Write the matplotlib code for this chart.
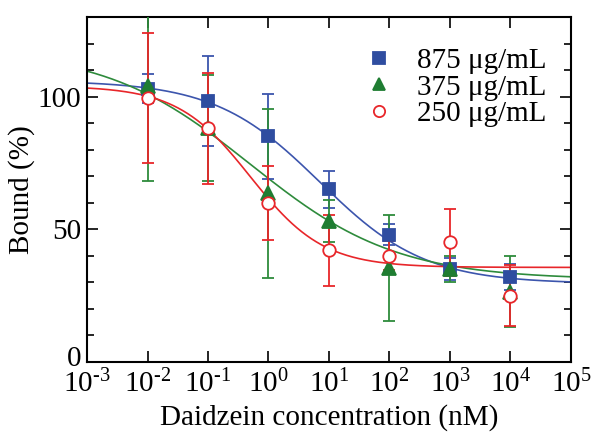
import numpy as np
import matplotlib.pyplot as plt
import matplotlib.transforms as mtransforms
from matplotlib.ticker import FixedLocator, MultipleLocator, FuncFormatter

plt.rcParams['font.family'] = ['Liberation Serif', 'DejaVu Serif']
plt.rcParams['mathtext.fontset'] = 'custom'
plt.rcParams['mathtext.rm'] = 'Liberation Serif'
plt.rcParams['mathtext.it'] = 'Liberation Serif'

# concentrations (nM)
conc = [1e-2, 1e-1, 1e0, 1e1, 1e2, 1e3, 1e4]

# 875 ug/mL
b875 = [103, 98.5, 85, 65, 48, 35, 32]
e875 = [5.5, 17, 16, 7, 4, 4, 5]
# 375 ug/mL
b375 = [104, 88, 63.5, 53, 35.5, 35, 26.5]
e375 = [36, 20, 32, 8, 20, 5, 13.5]
# 250 ug/mL
b250 = [99.5, 88, 60, 42, 40, 45, 25]
e250 = [24.5, 21, 14, 13.5, 5.5, 12.5, 11.5]

labels = ['875 \u03bcg/mL', '375 \u03bcg/mL', '250 \u03bcg/mL']

# four-parameter logistic fits: top, bottom, log IC50, hill slope
fit875 = (106, 29.5, 0.85, 0.5)
fit375 = (118, 31, -0.3, 0.36)
fit250 = (104, 35.6, -0.3, 0.72)


def logistic(x, p):
    top, bot, lic, h = p
    return bot + (top - bot) / (1 + 10 ** ((np.log10(x) - lic) * h))


def exp_label(v, pos):
    k = round(np.log10(v))
    if k < 0:
        return r'$\mathregular{10^{\text{-}%d}}$' % (-k)
    return r'$\mathregular{10^{%d}}$' % k


fig = plt.figure(figsize=(5.96, 4.37), dpi=100)
ax = fig.add_axes([0.146, 0.172, 0.812, 0.789])

xs = np.logspace(-3, 5, 400)

series = [
    (b875, e875, fit875, '#2f4da0', '#3c55ad', 's', '#2f4da0', 9),
    (b375, e375, fit375, '#1f7d32', '#2e8b3c', '^', '#1f7d32', 10),
    (b250, e250, fit250, '#e8262a', '#e8262a', 'o', 'white', 9),
]

handles = []
for vals, errs, fit, mc, lc, mk, fc, ms in series:
    ax.plot(xs, logistic(xs, fit), color=lc, lw=1.2, zorder=2)
    ax.errorbar(conc, vals, yerr=errs, fmt='none', ecolor=lc, elinewidth=1.3,
                capsize=4.5, capthick=1.3, zorder=3)
    h, = ax.plot(conc, vals, linestyle='none', marker=mk, ms=ms, mfc=fc,
                 mec=mc, mew=1.3, zorder=4)
    handles.append(h)

ax.set_xscale('log')
ax.set_xlim(1e-3, 1e5)
ax.set_ylim(0, 130)

ax.xaxis.set_major_locator(FixedLocator([10.0 ** k for k in range(-3, 6)]))
ax.xaxis.set_minor_locator(FixedLocator([]))
ax.xaxis.set_major_formatter(FuncFormatter(exp_label))
ax.yaxis.set_major_locator(FixedLocator([0, 50, 100]))
ax.yaxis.set_minor_locator(MultipleLocator(10))

ax.tick_params(which='both', direction='in', top=True, right=True,
               labelsize=21, width=1.2)
ax.tick_params(which='major', length=8)
ax.tick_params(which='minor', length=5)
ax.tick_params(axis='x', pad=6)
ax.tick_params(axis='y', pad=4)
for s in ax.spines.values():
    s.set_linewidth(1.5)

ax.set_xlabel('Daidzein concentration (nM)', fontsize=21, labelpad=4)
ax.set_ylabel('Bound (%)', fontsize=21, labelpad=2)

# lift the "0" label a little, as in the original figure
fig.canvas.draw()
lbl0 = ax.yaxis.get_majorticklabels()[0]
lbl0.set_transform(lbl0.get_transform() +
                   mtransforms.ScaledTranslation(0, 4 / 72, fig.dpi_scale_trans))

ax.legend(handles, labels, loc='upper left', bbox_to_anchor=(0.525, 0.97),
          frameon=False, fontsize=21, handletextpad=0.7, labelspacing=0.0,
          markerscale=0.9, handlelength=1.2, borderpad=0.2)

fig.savefig('out.png', dpi=100)
